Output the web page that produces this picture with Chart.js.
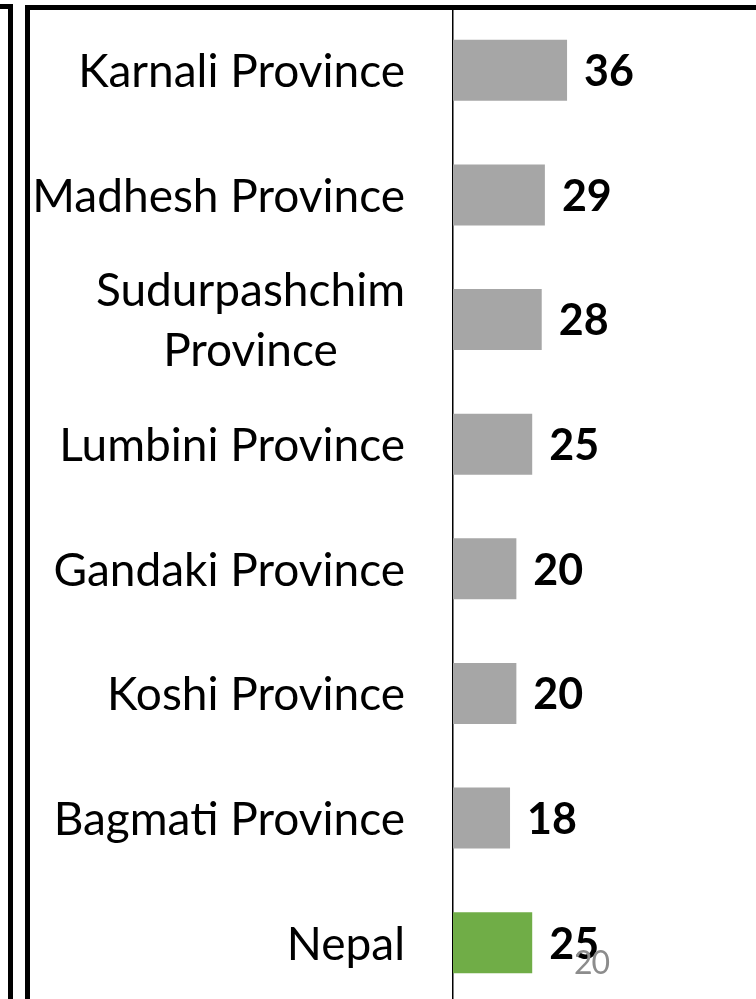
<!DOCTYPE html>
<html>
<head>
<meta charset="utf-8">
<script src="https://cdn.jsdelivr.net/npm/chart.js@4.4.1/dist/chart.umd.min.js"></script>
<style>
  html, body { margin: 0; padding: 0; background: #fff; overflow: hidden; }
  #wrap { position: relative; width: 756px; height: 999px; overflow: hidden; }
  #chart-box { position: absolute; left: 0; top: 0; width: 756px; height: 1005px; }
  .frame-left { position: absolute; left: -20px; top: 4px; width: 23px; height: 1100px; border: 5px solid #000; }
  .frame-main { position: absolute; left: 25px; top: 5px; width: 1000px; height: 1100px; border: 5px solid #000; }
  .page-no { position: absolute; left: 574px; top: 942px; font: 32px Lato, sans-serif; color: #8c8c8c; letter-spacing: -1px; }
</style>
</head>
<body>
<div id="wrap">
  <div class="frame-left"></div>
  <div class="frame-main"></div>
  <div id="chart-box"><canvas id="bar-chart" width="756" height="1005"></canvas></div>
  <div class="page-no">20</div>
</div>
<script>
  // Data
  var provinces = ["Karnali Province", "Madhesh Province", ["Sudurpashchim", "Province"], "Lumbini Province",
    "Gandaki Province", "Koshi Province", "Bagmati Province", "Nepal"];
  var values = [36, 29, 28, 25, 20, 20, 18, 25];
  var barColors = ["#a6a6a6", "#a6a6a6", "#a6a6a6", "#a6a6a6", "#a6a6a6", "#a6a6a6", "#a6a6a6", "#70ad47"];

  var labelFont = "46px Lato, sans-serif";
  var valueFont = "bold 43px Lato, sans-serif";

  // Province names, right aligned, multi-line centred
  var provinceLabels = {
    id: "provinceLabels",
    afterDraw: function (chart) {
      var ctx = chart.ctx;
      var yScale = chart.scales.y;
      var right = 405;
      ctx.save();
      ctx.font = labelFont;
      ctx.fillStyle = "#000";
      ctx.textBaseline = "middle";
      ctx.textAlign = "left";
      provinces.forEach(function (lab, i) {
        var y = yScale.getPixelForValue(i) + 2;
        var lines = Array.isArray(lab) ? lab : [lab];
        var widest = Math.max.apply(null, lines.map(function (l) { return ctx.measureText(l).width; }));
        var lh = 60;
        lines.forEach(function (l, j) {
          var w = ctx.measureText(l).width;
          var ly = y + (j - (lines.length - 1) / 2) * lh;
          ctx.fillText(l, right - widest + (widest - w) / 2, ly);
        });
      });
      ctx.restore();
    }
  };

  // Bold values after the bars
  var valueLabels = {
    id: "valueLabels",
    afterDatasetsDraw: function (chart) {
      var ctx = chart.ctx;
      var meta = chart.getDatasetMeta(0);
      ctx.save();
      ctx.font = valueFont;
      ctx.fillStyle = "#000";
      ctx.textAlign = "left";
      ctx.textBaseline = "middle";
      meta.data.forEach(function (bar, i) {
        ctx.fillText(values[i], bar.x + 17, bar.y + 2);
      });
      ctx.restore();
    }
  };

  var ctx = document.getElementById("bar-chart").getContext("2d");
  var myChart = new Chart(ctx, {
    type: "bar",
    data: {
      labels: provinces,
      datasets: [
        {
          data: values,
          backgroundColor: barColors,
          barPercentage: 0.49,
          categoryPercentage: 1,
        },
      ],
    },
    options: {
      indexAxis: "y",
      responsive: false,
      animation: false,
      layout: { padding: { left: 453, top: 8, right: 2, bottom: 0 } },
      plugins: { legend: { display: false }, tooltip: { enabled: false } },
      scales: {
        x: { display: false, min: 0, max: 95 },
        y: {
          ticks: { display: false },
          grid: { display: false, drawTicks: false },
          border: { display: true, color: "#000", width: 1.5 },
        },
      },
    },
    plugins: [provinceLabels, valueLabels],
  });
</script>
</body>
</html>
